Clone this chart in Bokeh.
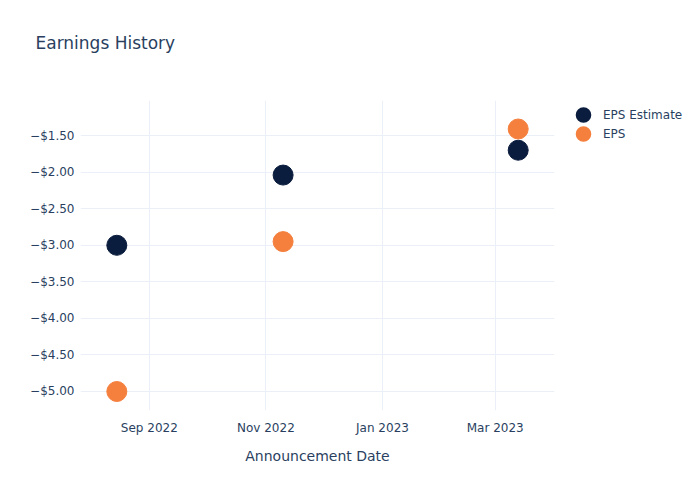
from datetime import datetime
from bokeh.plotting import figure
from bokeh.models import (ColumnDataSource, FixedTicker, CustomJSTickFormatter, Range1d,
                          DatetimeTickFormatter, Legend, LegendItem, Title)
from bokeh.embed import file_html
from bokeh.resources import INLINE

dates = ["2022-08-15", "2022-11-10", "2023-03-13"]
eps_estimate = [-3.00, -2.04, -1.70]
eps_actual = [-5.00, -2.95, -1.41]
y_ticks = [-1.5, -2.0, -2.5, -3.0, -3.5, -4.0, -4.5, -5.0]
x_tick_dates = ["2022-09-01", "2022-11-01", "2023-01-01", "2023-03-01"]

def ms(s):
    return datetime.strptime(s, "%Y-%m-%d").timestamp() * 1000.0

xs = [ms(d) for d in dates]
src = ColumnDataSource(dict(x=xs, est=eps_estimate, act=eps_actual))

FONT = "DejaVu Sans"
TXT = "#2a3f5f"
NAVY = "#0b1d3e"
ORANGE = "#f5803e"

p = figure(width=700, height=500, output_backend="svg", toolbar_location=None,
           x_axis_type="datetime",
           x_range=Range1d(ms("2022-07-27"), ms("2023-04-01")),
           y_range=Range1d(-5.26, -1.02),
           frame_width=474, frame_height=310,
           min_border_left=80, min_border_right=146, min_border_top=0, min_border_bottom=90,
           title=None)
p.outline_line_color = None
p.background_fill_color = "white"

# spacer (nearest the frame), then the real title above it
p.add_layout(Title(text=" ", standoff=15, text_font_size="1px", text_color="white"), "above")
p.add_layout(Title(text="Earnings History", text_font=FONT, text_font_size="17px",
                   text_font_style="normal", text_color=TXT, offset=-45, standoff=60), "above")

r1 = p.scatter("x", "est", source=src, size=20, color=NAVY, line_color=NAVY)
r2 = p.scatter("x", "act", source=src, size=20, color=ORANGE, line_color=ORANGE)

# legend-only renderers (point lies outside the view; thick outline enlarges the legend markers)
hidden = ColumnDataSource(dict(x=[ms("2020-01-01")], y=[0.0]))
l1 = p.scatter("x", "y", source=hidden, size=10, color=NAVY, line_color=NAVY, line_width=8)
l2 = p.scatter("x", "y", source=hidden, size=10, color=ORANGE, line_color=ORANGE, line_width=8)

p.xaxis.ticker = FixedTicker(ticks=[ms(d) for d in x_tick_dates])
p.xaxis.formatter = DatetimeTickFormatter(days="%b %Y", months="%b %Y", years="%b %Y")
p.yaxis.ticker = FixedTicker(ticks=y_ticks)
p.yaxis.formatter = CustomJSTickFormatter(code="return (tick < 0 ? '\u2212' : '') + '$' + Math.abs(tick).toFixed(2);")

for ax in (p.xaxis, p.yaxis):
    ax.axis_line_color = None
    ax.major_tick_line_color = None
    ax.minor_tick_line_color = None
    ax.major_label_text_font = FONT
    ax.major_label_text_font_size = "12px"
    ax.major_label_text_color = TXT
    ax.axis_label_text_font = FONT
    ax.axis_label_text_color = TXT
    ax.axis_label_text_font_style = "normal"
    ax.axis_label_text_font_size = "14px"

p.xaxis.axis_label = "Announcement Date"
p.xaxis.major_label_standoff = 4
p.xaxis.axis_label_standoff = 10
p.yaxis.major_label_standoff = 0

p.xgrid.grid_line_color = "#ebf0f8"
p.ygrid.grid_line_color = "#ebf0f8"

legend = Legend(items=[LegendItem(label="EPS Estimate", renderers=[l1]),
                       LegendItem(label="EPS", renderers=[l2])],
                location=(19, 267), border_line_color=None, background_fill_alpha=0,
                label_text_font=FONT, label_text_font_size="12px", label_text_color=TXT,
                glyph_width=20, glyph_height=19, spacing=0, label_standoff=10,
                padding=0, margin=0)
p.add_layout(legend, "right")

open("out.html", "w").write(file_html(p, INLINE))
